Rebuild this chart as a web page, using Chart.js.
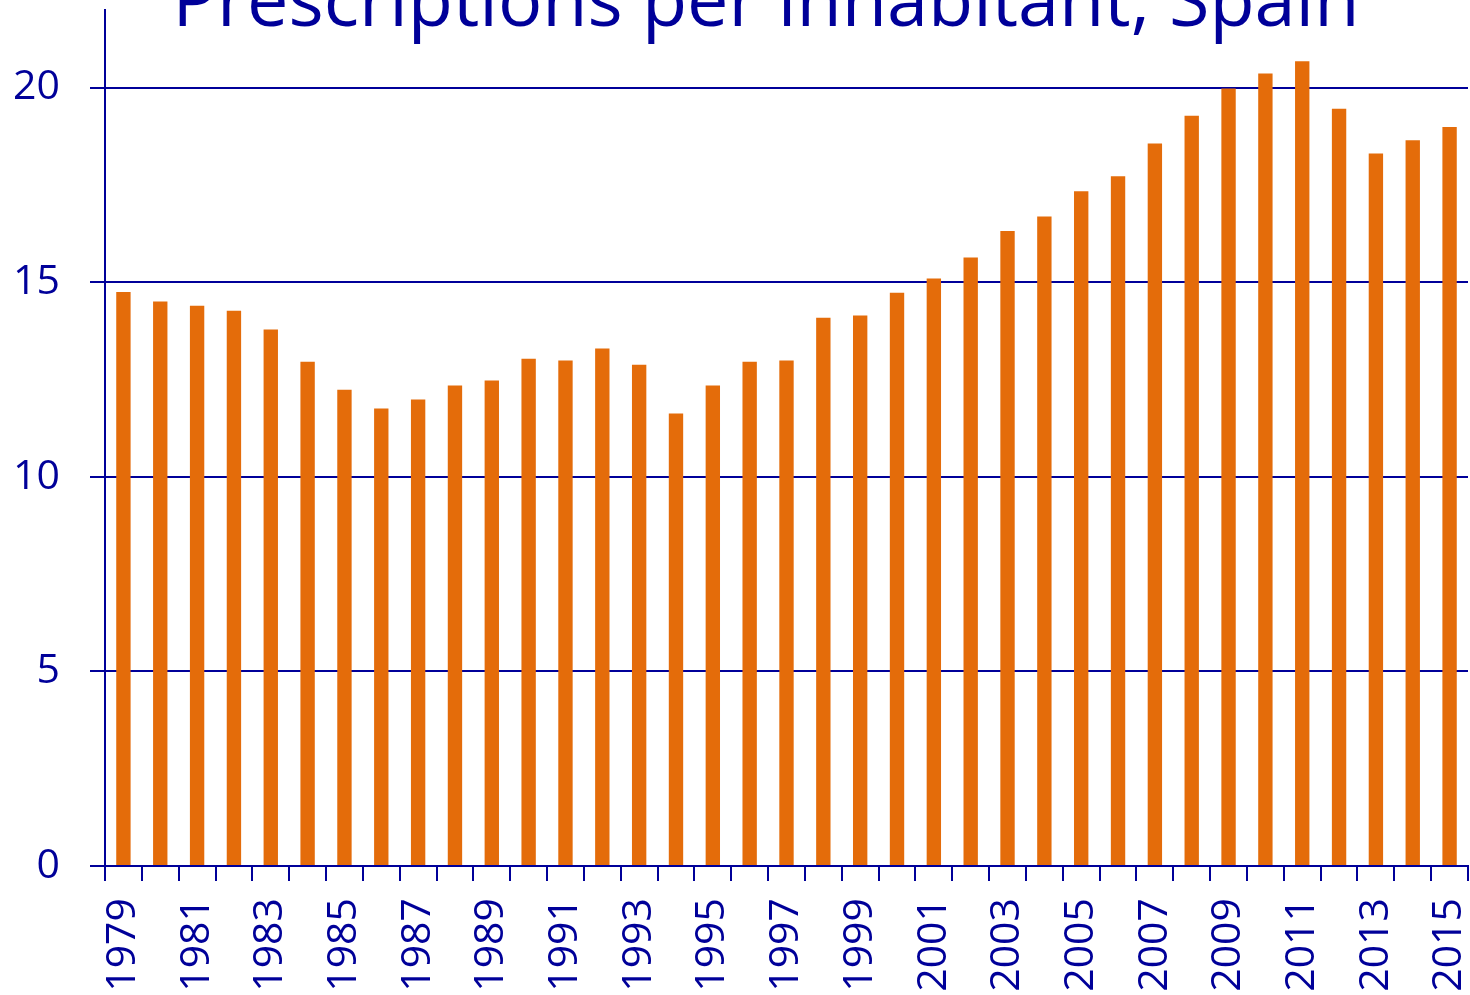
<!DOCTYPE html>
<html>
<head>
<meta charset="utf-8">
<script src="https://cdn.jsdelivr.net/npm/chart.js@4/dist/chart.umd.min.js"></script>
<style>
  body { margin: 0; background: #fff; }
  #wrap { width: 1470px; height: 995px; }
</style>
</head>
<body>
<div id="wrap"><canvas id="rx-chart" width="1470" height="995"></canvas></div>
<script>
/*------------------------ DATA ---------------------------------*/

const years = ['1979', '1980', '1981', '1982', '1983', '1984', '1985', '1986', '1987', '1988',
    '1989', '1990', '1991', '1992', '1993', '1994', '1995', '1996', '1997', '1998',
    '1999', '2000', '2001', '2002', '2003', '2004', '2005', '2006', '2007', '2008',
    '2009', '2010', '2011', '2012', '2013', '2014', '2015']

const prescriptions = [14.75, 14.51, 14.40, 14.27, 13.79, 12.96, 12.24, 11.76, 11.99, 12.35,
    12.48, 13.04, 12.99, 13.30, 12.88, 11.63, 12.35, 12.96, 12.99, 14.09,
    14.15, 14.73, 15.10, 15.64, 16.32, 16.69, 17.34, 17.73, 18.57, 19.28,
    19.98, 20.37, 20.68, 19.46, 18.31, 18.65, 18.99]

const yTicks = [0, 5, 10, 15, 20]

const titleText = 'Prescriptions per inhabitant, Spain'

/*---------------------------------------------------------------*/

const navy = '#000099'
const orange = '#E46C0A'
const fontFamily = "'Open Sans', 'Noto Sans', sans-serif"

// title sits partly above the canvas, so draw it by hand
const titlePlugin = {
    id: 'cutTitle',
    afterDraw(chart) {
        const ctx = chart.ctx
        ctx.save()
        ctx.font = '100px ' + fontFamily
        const size = 100 * 1187 / ctx.measureText(titleText).width
        ctx.font = size + 'px ' + fontFamily
        ctx.fillStyle = navy
        ctx.textAlign = 'center'
        ctx.textBaseline = 'alphabetic'
        ctx.fillText(titleText, 766, 26)
        ctx.restore()
    }
}

// no extra room for overhanging tick labels
function noPadding(scale) {
    scale.paddingTop = 0
    scale.paddingBottom = 0
    scale.paddingLeft = 0
    scale.paddingRight = 0
}

const rxCanvas = document.querySelector('#rx-chart').getContext('2d')

const rxData = {
    labels: years,
    datasets: [{
        label: 'Prescriptions per inhabitant',
        data: prescriptions,
        backgroundColor: orange,
        borderWidth: 0,
        categoryPercentage: 1,
        barPercentage: 0.39
    }]
}

const rxOptions = {
    type: 'bar',
    data: rxData,
    plugins: [titlePlugin],
    options: {
        responsive: false,
        animation: false,
        layout: {
            padding: { top: 10, right: 2, left: 0, bottom: 0 }
        },
        scales: {
            x: {
                offset: true,
                afterFit(scale) {
                    scale.height = 129
                    noPadding(scale)
                },
                grid: {
                    offset: true,
                    drawOnChartArea: false,
                    drawTicks: true,
                    tickLength: 15,
                    color: navy,
                    lineWidth: 2
                },
                border: { color: navy, width: 2 },
                ticks: {
                    autoSkip: false,
                    minRotation: 90,
                    maxRotation: 90,
                    padding: 17,
                    color: navy,
                    font: { family: fontFamily, size: 41 },
                    callback(value, index) {
                        return index % 2 === 0 ? years[index] : ''
                    }
                }
            },
            y: {
                min: 0,
                max: 22,
                afterFit(scale) {
                    scale.width = 105
                    noPadding(scale)
                },
                afterBuildTicks(scale) {
                    scale.ticks = yTicks.map(v => ({ value: v }))
                },
                grid: {
                    color: navy,
                    lineWidth: 2,
                    tickLength: 15
                },
                border: { color: navy, width: 2 },
                ticks: {
                    padding: 30,
                    color: navy,
                    font: { family: fontFamily, size: 41 }
                }
            }
        },
        plugins: {
            legend: { display: false },
            title: { display: false },
            tooltip: { enabled: false }
        }
    }
}

const rxChart = new Chart(rxCanvas, rxOptions)
</script>
</body>
</html>
